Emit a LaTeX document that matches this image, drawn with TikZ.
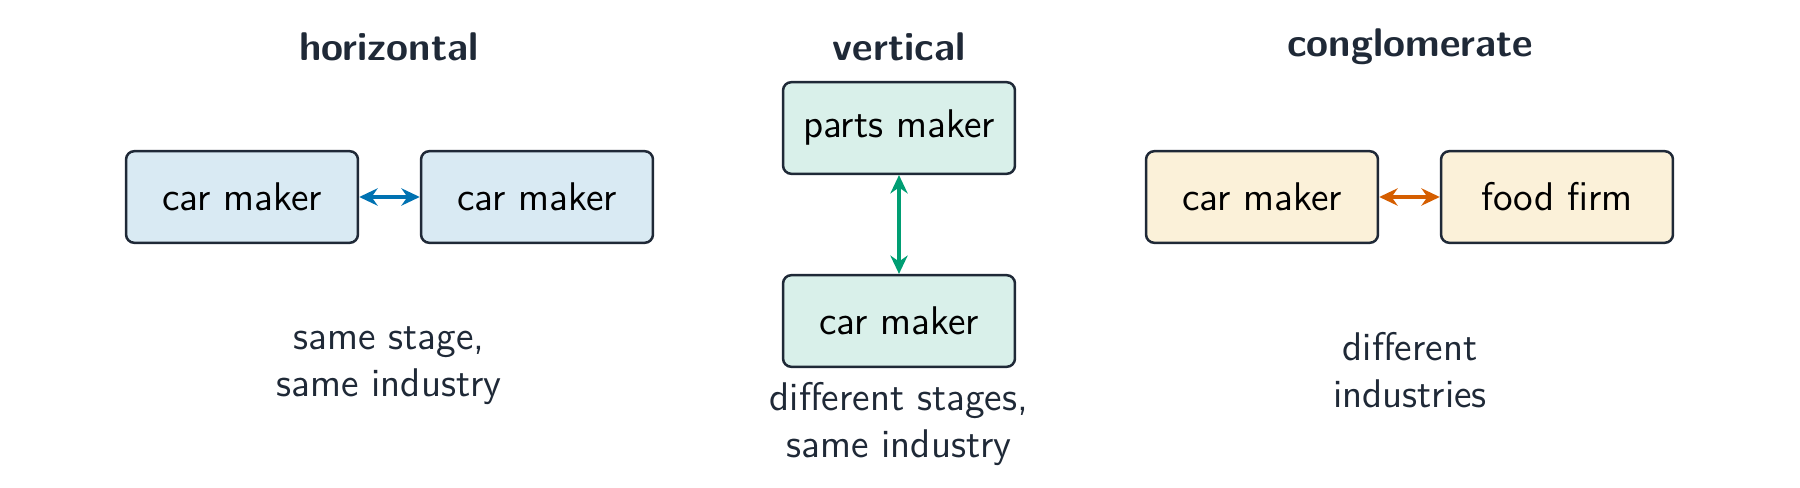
\documentclass[tikz,border=0pt]{standalone}
\usetikzlibrary{arrows.meta}
\definecolor{ink}{HTML}{1F2937}
\definecolor{hblue}{HTML}{0072B2}
\definecolor{vgreen}{HTML}{009E73}
\definecolor{corange}{HTML}{D55E00}
\definecolor{cyellow}{HTML}{E69F00}

\begin{document}
\begin{tikzpicture}[x=0.36pt, y=-0.36pt,
  firm/.style={draw=ink, line width=0.9pt, rounded corners=3pt,
    minimum width=83.5pt, minimum height=33pt,
    font=\sffamily\fontsize{14.4}{17}\selectfont, text=black},
  title/.style={font=\sffamily\bfseries\fontsize{14.4}{17}\selectfont, text=ink},
  note/.style={font=\sffamily\fontsize{14.4}{17}\selectfont, text=ink, align=center},
  link/.style={{Stealth[length=6.6pt,width=6.2pt]}-{Stealth[length=6.6pt,width=6.2pt]}, line width=1.4pt}]
  \useasboundingbox (0,0) rectangle (1800,488);

  % Horizontal
  \node[title] (htitle) at (389,47) {horizontal};
  \node[firm, fill=hblue!15] (hcar1) at (242,197) {car maker};
  \node[firm, fill=hblue!15] (hcar2) at (537,197) {car maker};
  \draw[link, hblue] (hcar1) -- (hcar2);
  \node[note] (hnote) at (389,366) {same stage,\\same industry};

  % Vertical
  \node[title] (vtitle) at (899,47) {vertical};
  \node[firm, fill=vgreen!15] (vparts) at (899,128) {parts maker};
  \node[firm, fill=vgreen!15] (vcar) at (899,321) {car maker};
  \draw[link, vgreen] (vparts) -- (vcar);
  \node[note] (vnote) at (899,424) {different stages,\\same industry};

  % Conglomerate
  \node[title] (ctitle) at (1410,47) {conglomerate};
  \node[firm, fill=cyellow!15] (ccar) at (1262,197) {car maker};
  \node[firm, fill=cyellow!15] (cfood) at (1557,197) {food firm};
  \draw[link, corange] (ccar) -- (cfood);
  \node[note] (cnote) at (1410,370) {different\\industries};
\end{tikzpicture}
\end{document}
